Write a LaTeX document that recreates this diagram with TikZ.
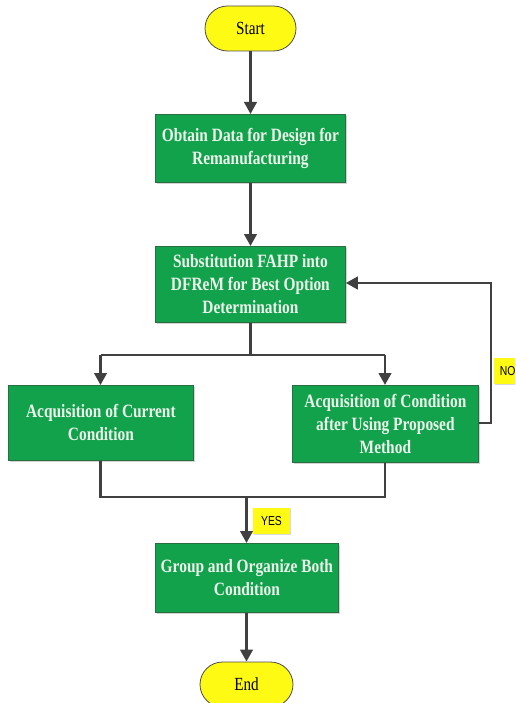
\documentclass[tikz,border=0pt]{standalone}
\usepackage{fontspec}
\setmainfont{Liberation Serif}
\newfontfamily\boxfont[FakeStretch=0.82]{Liberation Serif}
\newfontfamily\labfont[FakeStretch=0.8]{Liberation Sans}
\usetikzlibrary{arrows.meta,shapes.misc,shadows}
\definecolor{boxgreen}{RGB}{18,162,76}
\definecolor{boxedge}{RGB}{40,110,65}
\definecolor{termyellow}{RGB}{255,250,20}
\definecolor{arrowgrey}{RGB}{64,64,64}
\definecolor{boxtext}{RGB}{236,244,236}
\tikzset{
  x=1pt, y=-1pt,
  procbox/.style={draw=boxedge, line width=0.8pt, fill=boxgreen, text=boxtext,
    font=\boxfont\bfseries\fontsize{18.8}{23}\selectfont, align=center,
    inner sep=0pt, anchor=north west,
    drop shadow={shadow xshift=1.5pt, shadow yshift=-1.5pt, opacity=0.35}},
  term/.style={draw=black!70, line width=0.8pt, fill=termyellow, rounded rectangle,
    font=\boxfont\fontsize{18.5}{20}\selectfont, inner sep=0pt},
  tag/.style={fill=termyellow, font=\labfont\fontsize{13}{15}\selectfont, inner sep=0pt,
    drop shadow={shadow xshift=1pt, shadow yshift=-1pt, opacity=0.3}},
  flow/.style={draw=arrowgrey, line width=2.6pt, -{Triangle[length=12pt,width=12.5pt]}},
  wire/.style={draw=arrowgrey, line width=2.6pt},
}
\begin{document}
\begin{tikzpicture}
\useasboundingbox (0,0) rectangle (515,703);
\clip (0,0) rectangle (515,703);
\node[term, minimum width=91pt, minimum height=45pt] (start) at (250.5,28.5) {Start};
\node[procbox, minimum width=190pt, minimum height=68pt] (obtain) at (155,114) {Obtain Data for Design for\\Remanufacturing};
\node[procbox, minimum width=190pt, minimum height=76pt] (subst) at (155,246) {Substitution FAHP into\\DFReM for Best Option\\Determination};
\node[procbox, minimum width=185pt, minimum height=75pt] (curr) at (8,385) {Acquisition of Current\\Condition};
\node[procbox, minimum width=186pt, minimum height=77pt] (after) at (292,385) {Acquisition of Condition\\after Using Proposed\\Method};
\node[procbox, minimum width=183pt, minimum height=69pt] (group) at (155,543) {Group and Organize Both\\Condition};
\node[term, minimum width=93pt, minimum height=45pt] (end) at (246.5,684.5) {End};
\node[tag, minimum width=37pt, minimum height=26pt] (yes) at (271.5,521) {YES};
\node[tag, minimum width=30pt, minimum height=26pt, anchor=west] (no) at (494,371) {\hspace*{-3pt}NO};
% connectors
\draw[flow] (start.south) -- (obtain.north -| start.south);
\draw[flow] (obtain.south -| start.south) -- (subst.north -| start.south);
\coordinate (split) at (250.5,355);
\coordinate (splitL) at (100.5,355);
\coordinate (splitR) at (385,355);
\draw[wire] (subst.south -| split) -- (split);
\draw[wire] (splitL) -- (splitR);
\draw[flow] (splitL) -- (curr.north -| splitL);
\draw[flow] (splitR) -- (after.north -| splitR);
\coordinate (fbk) at (491,423);
\coordinate (fbkTop) at (491,283);
\draw[flow] (after.east |- fbk) -- (fbk) -- (fbkTop) -- (subst.east |- fbkTop);
\coordinate (join) at (246.5,497);
\coordinate (joinL) at (100.5,497);
\coordinate (joinR) at (385,497);
\draw[wire] (curr.south -| joinL) -- (joinL) -- (joinR) -- (after.south -| joinR);
\draw[flow] (join) -- (group.north -| join);
\draw[flow] (group.south -| join) -- (end.north);
\end{tikzpicture}
\end{document}
